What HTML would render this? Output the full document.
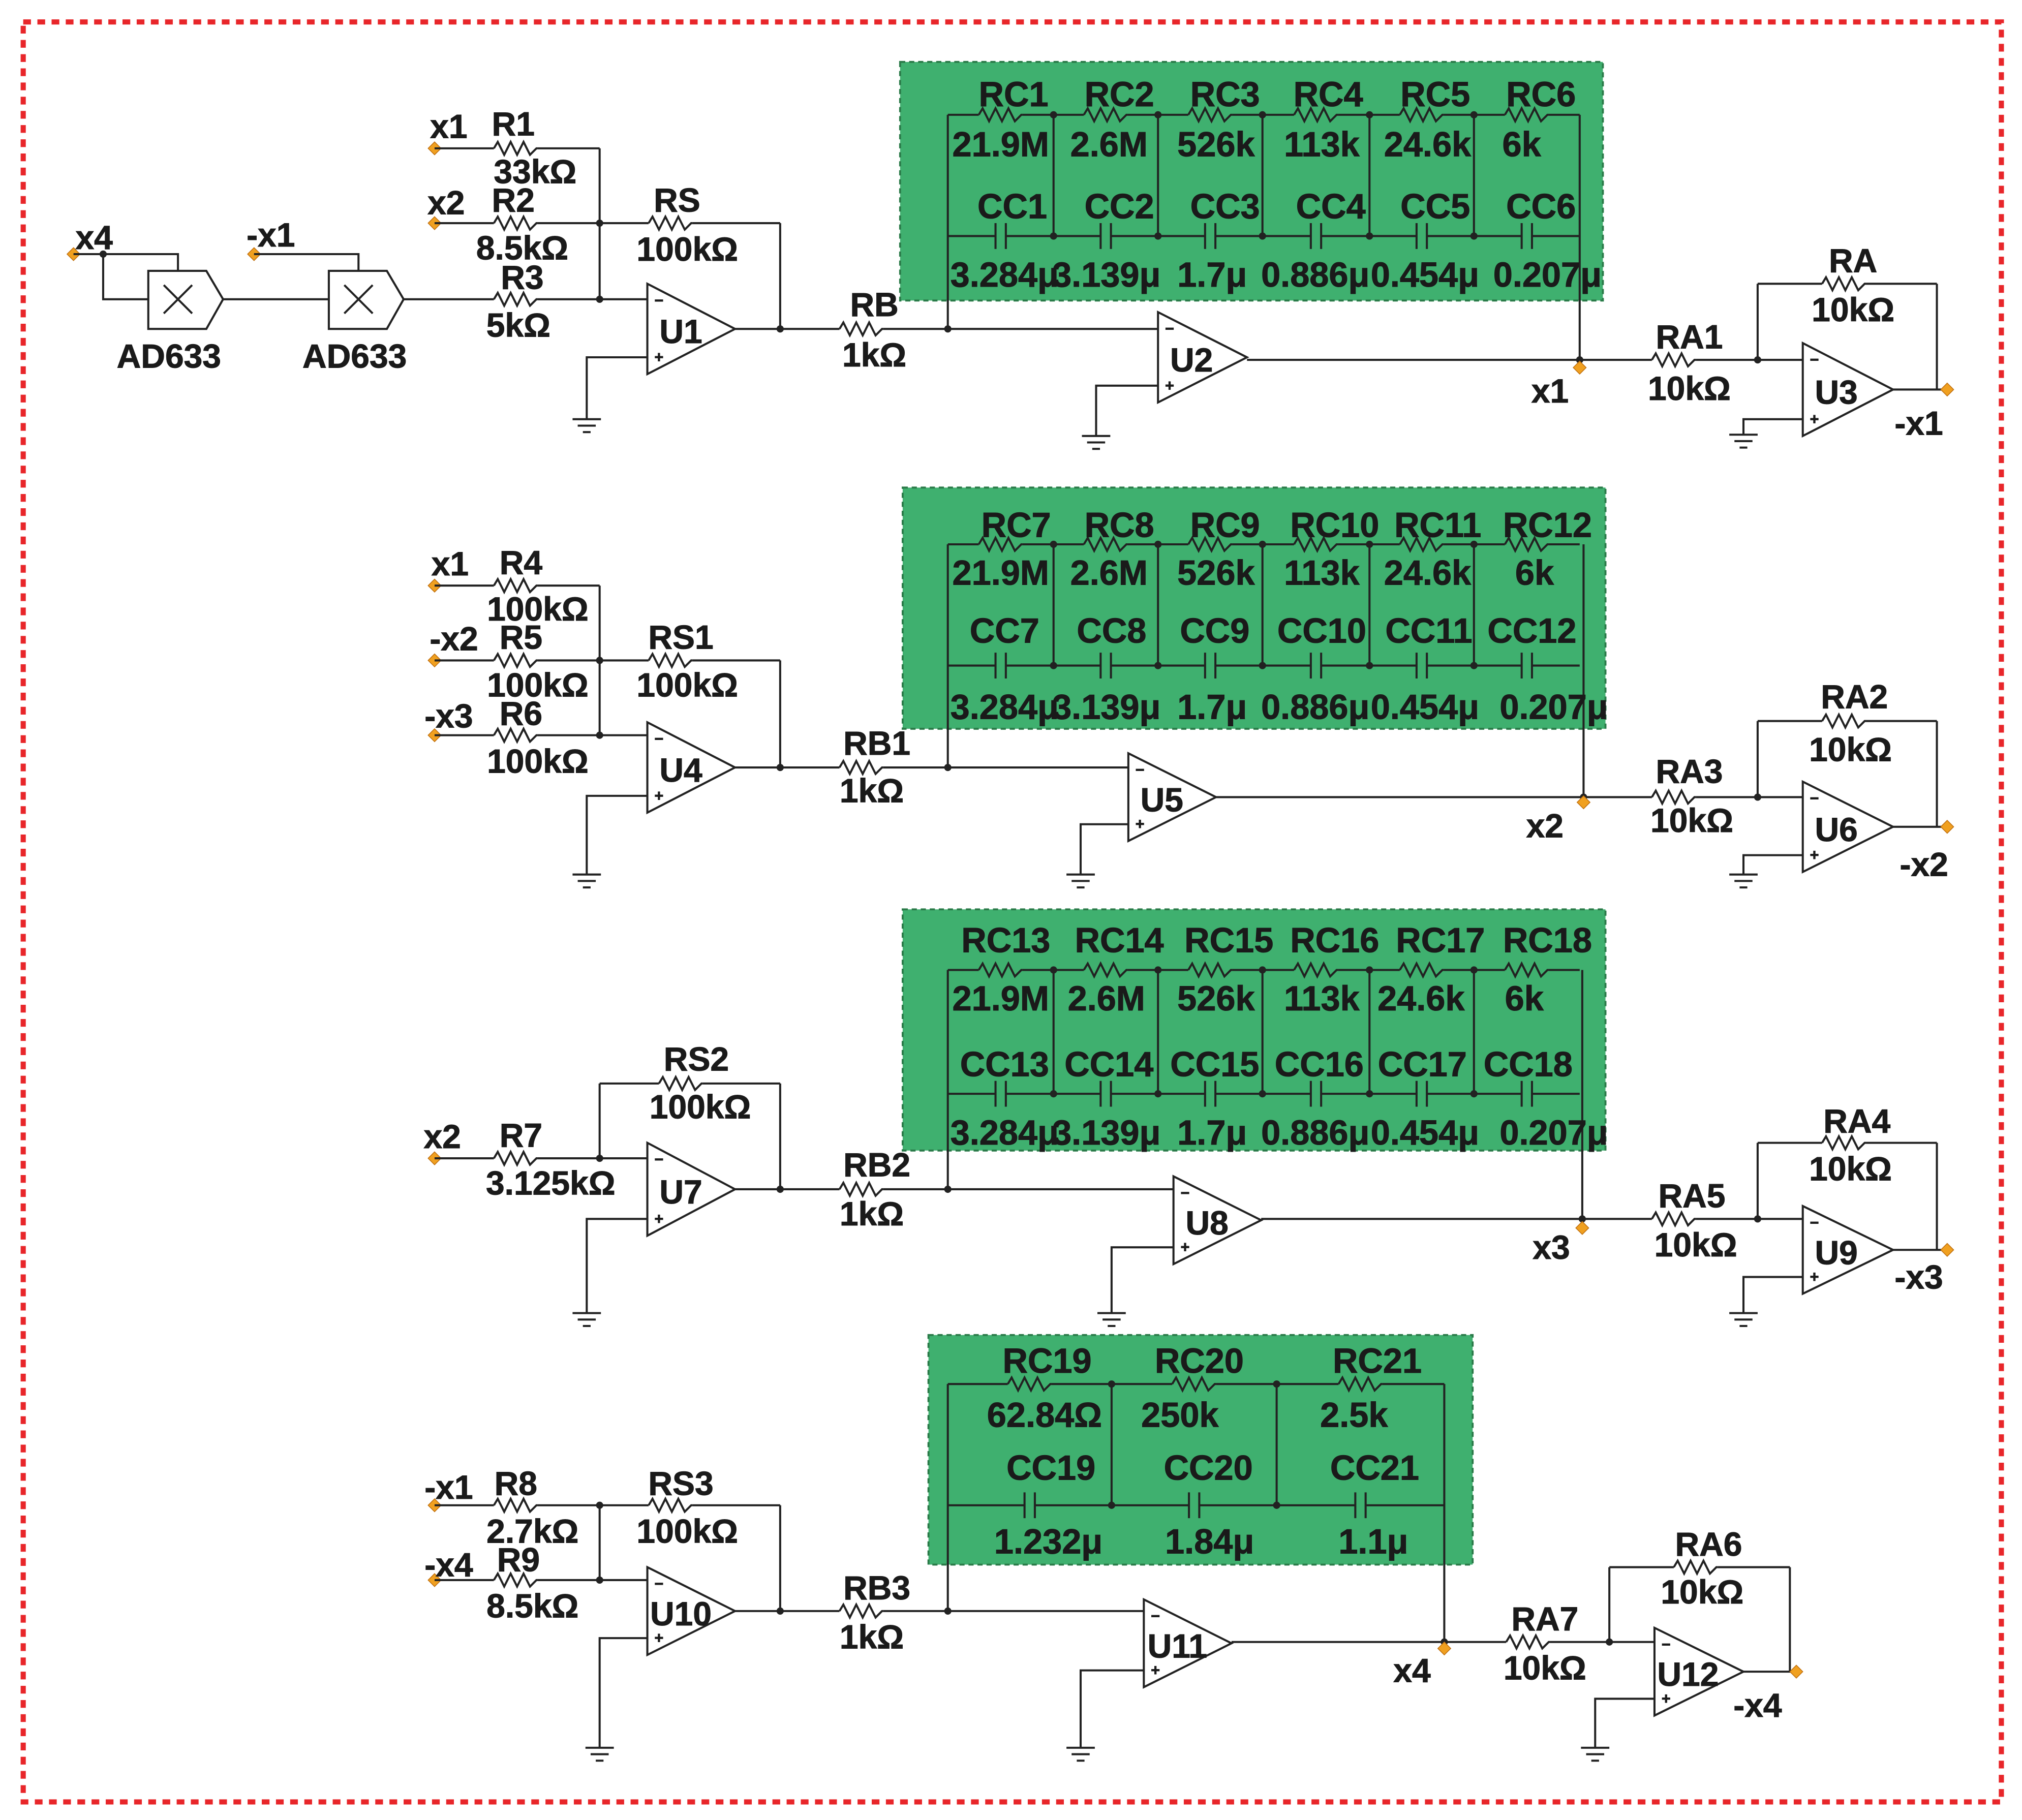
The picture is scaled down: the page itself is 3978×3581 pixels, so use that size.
<!DOCTYPE html>
<html><head><meta charset="utf-8">
<style>
html,body{margin:0;padding:0;background:#fff;}
svg{display:block;}
text{font-family:"Liberation Sans",Arial,sans-serif;font-weight:bold;fill:#1a1a1a;dominant-baseline:central;text-anchor:middle;stroke:#1a1a1a;stroke-width:0.4;}
</style></head>
<body>
<svg id="s" xmlns="http://www.w3.org/2000/svg" width="3978" height="3581" viewBox="0 0 1568 1411" preserveAspectRatio="none">
<rect x="0" y="0" width="1568" height="1411" fill="#fff"/>
<rect x="18" y="17" width="1534" height="1380" fill="none" stroke="#e8262a" stroke-width="4" stroke-dasharray="6,5"/>
<g id="g"></g>
</svg>
<script>
const NS="http://www.w3.org/2000/svg";const G=document.getElementById('g');
function el(t,a,txt){const e=document.createElementNS(NS,t);for(const k in a)e.setAttribute(k,a[k]);if(txt!==undefined)e.textContent=txt;G.appendChild(e);return e;}
const W={fill:'none',stroke:'#222','stroke-width':1.6,'stroke-linejoin':'miter'};
function L(...p){el('polyline',Object.assign({points:p.map(q=>q.join(',')).join(' ')},W));}
function zig(c,y){let p=[];p.push([c-17,y]);const xs=[-14,-9,-4,1,6,11,16];let s=-1;for(let i=0;i<xs.length;i++){p.push([c+xs[i],y+(i==xs.length-1?0:s*5)]);s=-s;}p.push([c+17,y]);L(...p);}
function H(x1,x2,y,rs){rs=rs||[];let x=x1;rs.slice().sort((a,b)=>a-b).forEach(c=>{L([x,y],[c-17,y]);zig(c,y);x=c+17;});L([x,y],[x2,y]);}
function D(x,y){el('circle',{cx:x,cy:y,r:2.8,fill:'#222'});}
function P(x,y){el('polygon',{points:`${x},${y-5} ${x+5},${y} ${x},${y+5} ${x-5},${y}`,fill:'#f0a020',stroke:'#c07010','stroke-width':0.6});}
function T(x,y,s,sz){el('text',{x:x,y:y,'font-size':sz||26},s);}
function gnd(x,y){L([x-11,y],[x+11,y]);L([x-7,y+5],[x+7,y+5]);L([x-3,y+10],[x+3,y+10]);}
function op(x,t,b,tip,lab,gx,gy){const m=(t+b)/2;el('polygon',Object.assign({points:`${x},${t} ${x},${b} ${tip},${m}`},W));
 el('text',{x:x+9,y:t+13,'font-size':12,'font-weight':'normal','stroke-width':0},'−');el('text',{x:x+9,y:b-13,'font-size':12,'font-weight':'normal','stroke-width':0},'+');
 T(x+26,m+2,lab);L([x,b-13],[gx,b-13],[gx,gy]);gnd(gx,gy);}
function mult(x,y){el('polygon',Object.assign({points:`${x},${y} ${x+45},${y} ${x+58},${y+22} ${x+45},${y+45} ${x},${y+45}`},W));
 L([x+12,y+11],[x+34,y+33]);L([x+34,y+11],[x+12,y+33]);}
function box(x1,y1,x2,y2){el('rect',{x:x1,y:y1,width:x2-x1,height:y2-y1,fill:'#3fb06f',stroke:'#2a7a48','stroke-width':1.5,'stroke-dasharray':'4,3'});}
function net(nodes,rt,rc){for(let i=0;i<nodes.length-1;i++){const c=(nodes[i]+nodes[i+1])/2;H(nodes[i],nodes[i+1],rt,[c]);
 L([nodes[i],rc],[c-4,rc]);L([c+4,rc],[nodes[i+1],rc]);L([c-4,rc-10],[c-4,rc+10]);L([c+4,rc-10],[c+4,rc+10]);}
 nodes.forEach((n,i)=>{if(i>0&&i<nodes.length-1){L([n,rt],[n,rc]);D(n,rt);D(n,rc);}});}
const N6=[735,817,898,979,1062,1143,1225];
const B=27;

/* ===== Section 1 ===== */
box(698,48,1243,233);
P(57,197);L([57,197],[138,197],[138,210]);L([80,197],[80,232],[115,232]);D(80,197);
mult(115,210);L([173,232],[255,232]);
P(197,197);L([197,197],[278,197],[278,210]);mult(255,210);
H(313,502,232,[400]);
P(337,115);H(337,465,115,[400]);P(337,173);H(337,605,173,[400,520]);
L([465,115],[465,232]);D(465,173);D(465,232);L([605,173],[605,255]);
op(502,220,290,570,'U1',455,325);
H(570,898,255,[668]);D(605,255);D(735,255);
op(898,242,312,967,'U2',850,338);
net(N6,89,183);L([735,89],[735,255]);L([1225,89],[1225,279]);
H(967,1398,279,[1298]);D(1225,279);P(1225,285);D(1363,279);
L([1363,279],[1363,220]);H(1363,1502,220,[1430]);L([1502,220],[1502,302]);
op(1398,266,338,1468,'U3',1352,337);L([1468,302],[1510,302]);P(1510,302);
T(348,98,'x1');T(398,96,'R1');T(415,133,'33kΩ');T(346,157,'x2');T(398,155,'R2');T(405,192,'8.5kΩ');
T(405,215,'R3');T(402,252,'5kΩ');T(525,155,'RS');T(533,193,'100kΩ');T(73,184,'x4');T(210,182,'-x1');
T(131,276,'AD633');T(275,276,'AD633');T(678,236,'RB');T(678,275,'1kΩ');T(1202,303,'x1');
T(1310,261,'RA1');T(1310,301,'10kΩ');T(1437,202,'RA');T(1437,240,'10kΩ');T(1488,328,'-x1');
[['RC1',786],['RC2',868],['RC3',950],['RC4',1030],['RC5',1113],['RC6',1195]].forEach(a=>T(a[1],73,a[0],B));
[['21.9M',776],['2.6M',860],['526k',943],['113k',1025],['24.6k',1107],['6k',1180]].forEach(a=>T(a[1],112,a[0],B));
[['CC1',785],['CC2',868],['CC3',950],['CC4',1032],['CC5',1113],['CC6',1195]].forEach(a=>T(a[1],160,a[0],B));
[['3.284μ',779],['3.139μ',858],['1.7μ',940],['0.886μ',1020],['0.454μ',1105],['0.207μ',1200]].forEach(a=>T(a[1],213,a[0],B));

/* ===== Section 2 ===== */
box(700,378,1245,565);
P(337,454);H(337,465,454,[400]);P(337,512);H(337,605,512,[400,520]);P(337,570);H(337,502,570,[400]);
L([465,454],[465,570]);D(465,512);D(465,570);L([605,512],[605,595]);
op(502,560,630,570,'U4',455,678);
H(570,875,595,[668]);D(605,595);D(735,595);
op(875,584,652,943,'U5',838,678);
net(N6,422,516);L([735,422],[735,595]);L([1228,422],[1228,618]);
H(943,1398,618,[1298]);D(1228,618);P(1228,622);D(1363,618);
L([1363,618],[1363,559]);H(1363,1502,559,[1430]);L([1502,559],[1502,641]);
op(1398,606,676,1468,'U6',1352,678);L([1468,641],[1510,641]);P(1510,641);
T(349,437,'x1');T(404,436,'R4');T(417,472,'100kΩ');T(352,495,'-x2');T(404,494,'R5');T(417,531,'100kΩ');
T(348,555,'-x3');T(404,553,'R6');T(417,590,'100kΩ');T(528,494,'RS1');T(533,531,'100kΩ');
T(680,576,'RB1');T(676,613,'1kΩ');T(1198,640,'x2');T(1310,598,'RA3');T(1312,636,'10kΩ');
T(1438,540,'RA2');T(1435,581,'10kΩ');T(1492,670,'-x2');
[['RC7',788],['RC8',868],['RC9',950],['RC10',1035],['RC11',1115],['RC12',1200]].forEach(a=>T(a[1],407,a[0],B));
[['21.9M',776],['2.6M',860],['526k',943],['113k',1025],['24.6k',1107],['6k',1190]].forEach(a=>T(a[1],444,a[0],B));
[['CC7',779],['CC8',862],['CC9',942],['CC10',1025],['CC11',1108],['CC12',1188]].forEach(a=>T(a[1],489,a[0],B));
[['3.284μ',779],['3.139μ',858],['1.7μ',940],['0.886μ',1020],['0.454μ',1105],['0.207μ',1205]].forEach(a=>T(a[1],548,a[0],B));

/* ===== Section 3 ===== */
box(700,705,1245,892);
P(337,898);H(337,502,898,[400]);D(465,898);L([465,898],[465,840]);H(465,605,840,[528]);L([605,840],[605,922]);
op(502,886,958,570,'U7',455,1018);
H(570,910,922,[668]);D(605,922);D(735,922);
op(910,912,980,978,'U8',862,1018);
net(N6,752,848);L([735,752],[735,922]);L([1227,752],[1227,945]);
H(978,1398,945,[1298]);D(1227,945);P(1227,952);D(1363,945);
L([1363,945],[1363,886]);H(1363,1502,886,[1430]);L([1502,886],[1502,969]);
op(1398,935,1003,1468,'U9',1352,1018);L([1468,969],[1510,969]);P(1510,969);
T(343,881,'x2');T(404,880,'R7');T(427,917,'3.125kΩ');T(540,821,'RS2');T(543,858,'100kΩ');
T(680,903,'RB2');T(676,941,'1kΩ');T(1203,967,'x3');T(1312,927,'RA5');T(1315,965,'10kΩ');
T(1440,869,'RA4');T(1435,906,'10kΩ');T(1488,990,'-x3');
[['RC13',780],['RC14',868],['RC15',953],['RC16',1035],['RC17',1117],['RC18',1200]].forEach(a=>T(a[1],729,a[0],B));
[['21.9M',776],['2.6M',858],['526k',943],['113k',1025],['24.6k',1102],['6k',1182]].forEach(a=>T(a[1],774,a[0],B));
[['CC13',779],['CC14',860],['CC15',942],['CC16',1023],['CC17',1103],['CC18',1185]].forEach(a=>T(a[1],825,a[0],B));
[['3.284μ',779],['3.139μ',858],['1.7μ',940],['0.886μ',1020],['0.454μ',1105],['0.207μ',1205]].forEach(a=>T(a[1],878,a[0],B));

/* ===== Section 4 ===== */
box(720,1035,1142,1213);
P(337,1167);H(337,605,1167,[400,520]);P(337,1225);H(337,502,1225,[400]);
L([465,1167],[465,1225]);D(465,1167);D(465,1225);L([605,1167],[605,1249]);
op(502,1215,1283,570,'U10',465,1355);
H(570,887,1249,[668]);D(605,1249);D(735,1249);
op(887,1240,1308,955,'U11',838,1355);
net([735,862,990,1120],1073,1167);L([735,1073],[735,1249]);L([1120,1073],[1120,1273]);
H(955,1283,1273,[1185]);D(1120,1273);P(1120,1278);D(1248,1273);
L([1248,1273],[1248,1215]);H(1248,1388,1215,[1315]);L([1388,1215],[1388,1296]);
op(1283,1262,1330,1352,'U12',1237,1355);L([1352,1296],[1393,1296]);P(1393,1296);
T(348,1153,'-x1');T(400,1150,'R8');T(413,1187,'2.7kΩ');T(348,1213,'-x4');T(402,1209,'R9');T(413,1245,'8.5kΩ');
T(528,1150,'RS3');T(533,1187,'100kΩ');T(680,1231,'RB3');T(676,1269,'1kΩ');T(1095,1295,'x4');
T(1198,1255,'RA7');T(1198,1293,'10kΩ');T(1325,1197,'RA6');T(1320,1234,'10kΩ');T(1363,1322,'-x4');
T(812,1055,'RC19',B);T(930,1055,'RC20',B);T(1068,1055,'RC21',B);
T(810,1097,'62.84Ω',B);T(915,1097,'250k',B);T(1050,1097,'2.5k',B);
T(815,1138,'CC19',B);T(937,1138,'CC20',B);T(1066,1138,'CC21',B);
T(813,1195,'1.232μ',B);T(938,1195,'1.84μ',B);T(1065,1195,'1.1μ',B);
</script>
</body></html>
